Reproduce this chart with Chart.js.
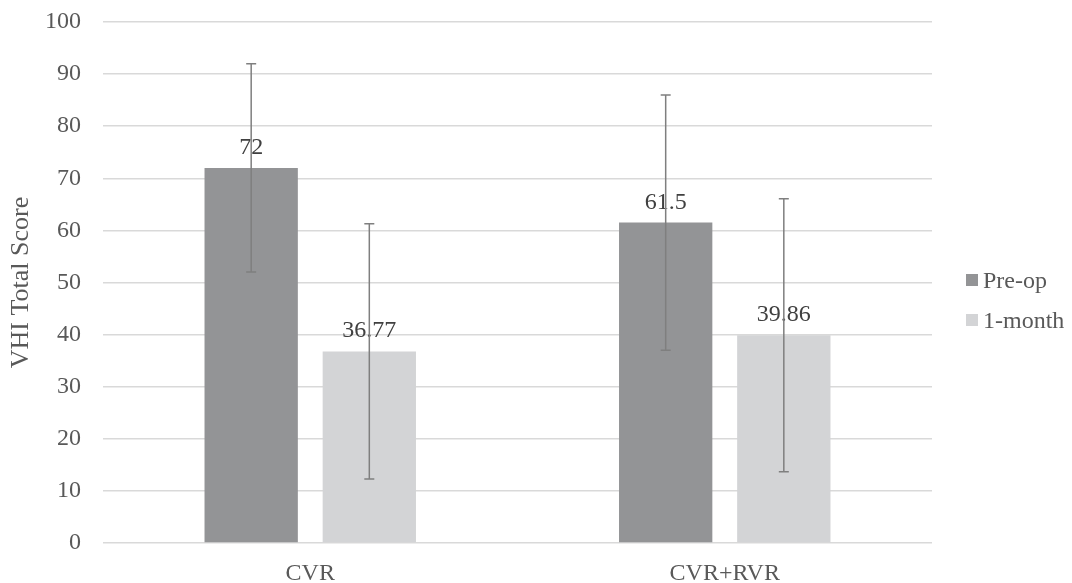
<!DOCTYPE html>
<html>
<head>
<meta charset="utf-8">
<script src="https://cdn.jsdelivr.net/npm/chart.js@4.4.1/dist/chart.umd.min.js"></script>
<style>
  html, body { margin: 0; padding: 0; background: #ffffff; }
  #wrap { width: 1072px; height: 583px; position: relative; }
</style>
</head>
<body>
<div id="wrap"><canvas id="bar_chart"></canvas></div>
<script>
var categories = ["CVR", "CVR+RVR"];
var preOp = [72, 61.5];
var oneMonth = [36.77, 39.86];
var preOpErr = [20, 24.5];
var oneMonthErr = [24.5, 26.2];
var seriesNames = ["Pre-op", "1-month"];
var yTicks = [0, 10, 20, 30, 40, 50, 60, 70, 80, 90, 100];

var FONT = "'Liberation Serif', 'Times New Roman', serif";

// error bars, value labels and the legend on the right
var extras = {
    id: 'extras',
    afterDatasetsDraw: function (chart) {
        var ctx = chart.ctx;
        var y = chart.scales.y;
        var errs = [preOpErr, oneMonthErr];
        ctx.save();
        chart.data.datasets.forEach(function (ds, i) {
            var meta = chart.getDatasetMeta(i);
            meta.data.forEach(function (bar, j) {
                var v = ds.data[j];
                ctx.fillStyle = '#404040';
                ctx.font = '24px ' + FONT;
                ctx.textAlign = 'center';
                ctx.textBaseline = 'alphabetic';
                ctx.fillText(String(v), bar.x, bar.y - 14);

                var hi = y.getPixelForValue(v + errs[i][j]);
                var lo = y.getPixelForValue(v - errs[i][j]);
                ctx.strokeStyle = '#7f7f7f';
                ctx.lineWidth = 1.5;
                ctx.beginPath();
                ctx.moveTo(bar.x, hi); ctx.lineTo(bar.x, lo);
                ctx.moveTo(bar.x - 5, hi); ctx.lineTo(bar.x + 5, hi);
                ctx.moveTo(bar.x - 5, lo); ctx.lineTo(bar.x + 5, lo);
                ctx.stroke();
            });
        });

        // legend
        ctx.font = '24px ' + FONT;
        ctx.textAlign = 'left';
        chart.data.datasets.forEach(function (ds, i) {
            var top = 274 + i * 40;
            ctx.fillStyle = ds.backgroundColor;
            ctx.fillRect(966, top, 12, 12);
            ctx.fillStyle = '#595959';
            ctx.fillText(ds.label, 983, top + 14);
        });
        ctx.restore();
    }
};

new Chart(document.getElementById("bar_chart").getContext("2d"), {
    type: 'bar',
    data: {
        labels: categories,
        datasets: [{
            label: seriesNames[0],
            data: preOp,
            backgroundColor: '#939496'
        }, {
            label: seriesNames[1],
            data: oneMonth,
            backgroundColor: '#d3d4d6'
        }]
    },
    options: {
        responsive: true,
        maintainAspectRatio: false,
        animation: false,
        categoryPercentage: 0.57,
        barPercentage: 0.79,
        layout: { padding: { top: 22, right: 140, left: 6, bottom: 3 } },
        plugins: {
            legend: { display: false },
            tooltip: { enabled: false }
        },
        scales: {
            x: {
                afterFit: function (axis) {
                    axis.height = 37;
                },
                grid: { display: false },
                border: { display: false },
                ticks: { color: '#595959', font: { family: FONT, size: 24 }, padding: 8 }
            },
            y: {
                min: 0,
                max: 100,
                afterBuildTicks: function (axis) {
                    axis.ticks = yTicks.map(function (v) { return { value: v }; });
                },
                afterFit: function (axis) {
                    axis.width = 97;
                    axis.paddingTop = 0;
                    axis.paddingBottom = 0;
                },
                grid: { color: '#d9d9d9', lineWidth: 1.5, drawTicks: false },
                border: { display: false },
                ticks: { color: '#595959', font: { family: FONT, size: 24 }, padding: 22 },
                title: {
                    display: true,
                    text: 'VHI Total Score',
                    color: '#595959',
                    font: { family: FONT, size: 26 },
                    padding: { top: 0, bottom: 8 }
                }
            }
        }
    },
    plugins: [extras]
});
</script>
</body>
</html>
